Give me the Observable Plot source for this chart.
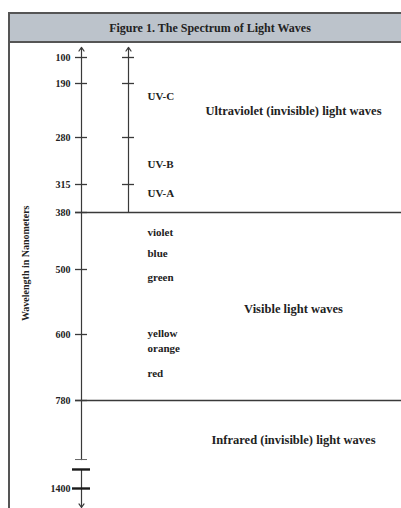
<!DOCTYPE html>
<html>
<head>
<meta charset="utf-8">
<script src="https://cdn.jsdelivr.net/npm/d3@7"></script>
<script src="https://cdn.jsdelivr.net/npm/@observablehq/plot@0.6"></script>
<style>
  html, body { margin: 0; padding: 0; overflow: hidden; background: #fff; width: 401px; height: 508px; }
  #frame { position: absolute; left: 8px; top: 12px; width: 400px; height: 496px; border-left: 2px solid #555; }
  #header { height: 27px; border-top: 2px solid #555; border-bottom: 2px solid #555; background: #bcc3cb;
            font: bold 12px "Liberation Serif", serif; color: #222; line-height: 28px; text-align: center; }
  #chart svg { display: block; }
</style>
</head>
<body>
<div id="frame">
  <div id="header">Figure 1. The Spectrum of Light Waves</div>
  <div id="chart"></div>
</div>
<script>
// ---- data ----
const title = "Figure 1. The Spectrum of Light Waves";
const yAxisLabel = "Wavelength in Nanometers";
const yTicks = [100, 190, 280, 315, 380, 500, 600, 780, 1400];
const yTickLabels = ["100", "190", "280", "315", "380", "500", "600", "780", "1400"];
const uvTicks = [100, 190, 280, 315];
const bandBoundaries = [380, 780];
const uvBands = ["UV-C", "UV-B", "UV-A"];
const uvBandY = [212, 300, 336];
const colorNames = ["violet", "blue", "green", "yellow", "orange", "red"];
const colorY = [422, 466, 512, 598, 638, 706];
const regions = ["Ultraviolet (invisible) light waves", "Visible light waves", "Infrared (invisible) light waves"];
const regionY = [235, 560, 1055];
const axisTop = 65;
const axisBottom = 1534;
const axisBreak = [1196, 1266];
const yLabelAt = 487;

// ---- layout (not data) ----
const W = 391, H = 465;
const yRange = [14, 40, 94, 141, 169, 226, 291, 357, 445];
const L = { axis1: 71, axis2: 118, band: 137, region: 283, ylab: 15, tick: 6, thick: 9, right: 391 };
const ink = "#3a3a3a";
const txt = "#222";

const tickRows = yTicks.map((v, i) => ({ v, label: yTickLabels[i] }));
const uvRows = uvBands.map((t, i) => ({ t, y: uvBandY[i] }));
const colorRows = colorNames.map((t, i) => ({ t, y: colorY[i] }));
const regionRows = regions.map((t, i) => ({ t, y: regionY[i] }));

const chart = Plot.plot({
  width: W,
  height: H,
  margin: 0,
  x: { type: "linear", domain: [0, W], range: [0, W], axis: null },
  y: { type: "linear", domain: yTicks, range: yRange, axis: null },
  style: { fontFamily: "'Liberation Serif', serif", background: "transparent", overflow: "visible" },
  marks: [
    // region boundaries
    Plot.ruleY(bandBoundaries, { y: d => d, x1: L.axis1 - L.tick, x2: L.right, stroke: ink, strokeWidth: 1.3 }),
    // main axis (upper part with arrow)
    Plot.arrow([0], { x1: L.axis1, x2: L.axis1, y1: axisBreak[0], y2: axisTop, headLength: 5.5, headAngle: 70, stroke: ink, strokeWidth: 1.2 }),
    // main axis (lower part with arrow)
    Plot.arrow([0], { x1: L.axis1, x2: L.axis1, y1: axisBreak[1], y2: axisBottom, headLength: 5.5, headAngle: 70, stroke: ink, strokeWidth: 1.2 }),
    // UV axis
    Plot.arrow([0], { x1: L.axis2, x2: L.axis2, y1: bandBoundaries[0], y2: axisTop, headLength: 5.5, headAngle: 70, stroke: ink, strokeWidth: 1.2 }),
    // main ticks
    Plot.ruleY(yTicks.filter(v => v !== 1400), { y: d => d, x1: L.axis1 - L.tick, x2: L.axis1 + L.tick, stroke: ink, strokeWidth: 1.3 }),
    // UV ticks
    Plot.ruleY(uvTicks, { y: d => d, x1: L.axis2 - L.tick, x2: L.axis2 + L.tick, stroke: ink, strokeWidth: 1.3 }),
    // axis break: light tick then thick ticks
    Plot.ruleY([axisBreak[0]], { y: d => d, x1: L.axis1 - L.tick, x2: L.axis1 + L.tick, stroke: "#666", strokeWidth: 1 }),
    Plot.ruleY([axisBreak[1], 1400], { y: d => d, x1: L.axis1 - L.thick, x2: L.axis1 + L.thick, stroke: "#1a1a1a", strokeWidth: 2.4 }),
    // tick labels
    Plot.text(tickRows, { y: "v", text: "label", x: L.axis1, dx: -11, textAnchor: "end", fontSize: 10, fontWeight: "bold", fill: txt }),
    // UV band labels
    Plot.text(uvRows, { y: "y", text: "t", x: L.band, textAnchor: "start", fontSize: 11, fontWeight: "bold", fill: txt }),
    // color names
    Plot.text(colorRows, { y: "y", text: "t", x: L.band, textAnchor: "start", fontSize: 11, fontWeight: "bold", fill: txt }),
    // region labels
    Plot.text(regionRows, { y: "y", text: "t", x: L.region, textAnchor: "middle", fontSize: 12.5, fontWeight: "bold", fill: txt }),
    // y-axis title
    Plot.text([yAxisLabel], { text: d => d, x: L.ylab, y: yLabelAt, rotate: -90, textAnchor: "middle", fontSize: 10, fontWeight: "bold", fill: txt })
  ]
});
document.getElementById("chart").appendChild(chart);
</script>
</body>
</html>
